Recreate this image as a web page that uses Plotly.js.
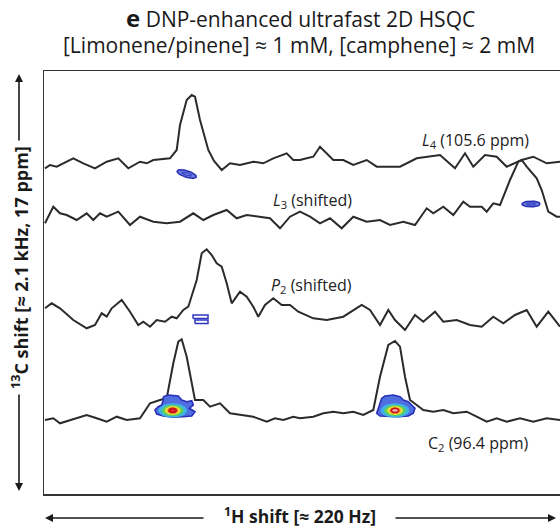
<!DOCTYPE html>
<html>
<head>
<meta charset="utf-8">
<script src="https://cdn.plot.ly/plotly-3.0.1.min.js"></script>
<style>html,body{margin:0;padding:0;background:#fff;}#chart{width:560px;height:528px;}</style>
</head>
<body>
<div id="chart"></div>
<script>
// ---- 1D projections (x: 1H position, arbitrary units; y: intensity relative to each trace baseline)
const xL4 = [1,6,12.7,29.3,39.3,51,62.7,74.3,84.3,96,102.7,109.3,126,132.7,136,142.7,147.7,151,156,164.3,170,177.7,186,196,209.3,219.3,229.3,242.7,249.3,256,262.7,269.3,276,289.3,299.3,309.3,322.7,332.7,346,356,372.7,396,411,421,429.3,441,452.7,462.7,477.7,489.3,502.7,516];
const yL4 = [-5.3,-2,-3.7,4.7,-0.3,-5.3,1.3,4.7,-5.3,1.3,-0.3,3,4.7,13,38,63,68,66.3,43,13,2,-7,-0.3,-2,1.3,-0.3,4.7,9.7,3,3,4.7,6.3,16.3,3,3,-2,3,-3.7,-3.7,-3.7,4.7,8,-5.3,9.7,-3.7,8,6.3,-3.7,3,6.3,-0.3,1.3];
const xL3 = [1,9.3,16,22.7,32.7,42.7,49.3,56,62.7,74.3,86,96,109.3,122.7,136,149.3,159.3,169.3,182.7,192.7,202.7,216,226,236,246,256,266,276,286,297.7,309.3,322.7,336,346,359.3,371,382.7,389.3,399.3,409.3,419.3,426,437.7,442.7,449.3,456,466,474.3,477.7,482.7,492.7,497.7,504.3,512.7,516];
const yL3 = [-7.3,9.3,2.7,1,-4,2.7,-4,2.7,-0.7,4.3,-9,-0.7,-5.7,-7.3,-5.7,2.7,-4,1,6,-2.3,1,-0.7,-2.3,-12.3,-0.7,4.3,-0.7,-7.3,-2.3,-12.3,-0.7,-5.7,-4,-9,-5.7,-9,7.7,2.7,9.3,1,14.3,9.3,9.3,4.3,12.7,11,36,54.3,56,49.3,37.7,26,4.3,-0.7,-0.7];
const xP2 = [1,7.7,16,29.3,42.7,51,57.7,62.7,67.7,77.7,86,94.3,99.3,106,112.7,121,127.7,132.7,139.3,144.3,152.7,157.7,162.7,167.7,172.7,177.7,182.7,187.7,196,202.7,209.3,214.3,221,229.3,237.7,246,254.3,269.3,282.7,299.3,317.7,326,336,344.3,351,361,371,379.3,391,399.3,412.7,426,437.7,449.3,459.3,471,482.7,492.7,504.3,516];
const yP2 = [7.7,12.7,7.7,-4,-12.3,-9,2.7,-0.7,7.7,16,4.3,-9,-5.7,-10.7,-4,-5.7,-0.7,-2.3,6,9.3,36,62.7,66.7,61,52.7,49.3,32.7,12.7,24.3,19.3,9.3,-0.7,11,17.7,11,11,4.3,-2.3,-4,-0.7,11,6,-9,6,-4,-14,1,-5.7,4.3,-5.7,-4,-9,-10.7,-0.7,-7.3,1,6,-10.7,4.3,-10.7];
const xC2 = [1,9.3,16,26,34,42.7,52.7,62.7,72.7,82.7,96,106,116,122.7,129.3,134.3,137.7,142.7,151,159.3,166,176,186,196,209.3,222.7,231,239.3,249.3,256,269.3,279.3,289.3,299.3,309.3,319.3,329.3,336,344.3,351,356,361,366,372.7,379.3,389.3,399.3,409.3,422.7,432.7,442.7,452.7,462.7,476,489.3,502.7,516];
const yC2 = [-2,-0.3,-5.3,-2,0,3,-0.3,-3.7,1.3,-2,-0.3,14.7,18,19.7,54.7,76.3,78.7,61.3,18,18,11.3,14.7,4.7,3,1.3,-3.7,-0.3,-2,1.3,-0.3,1.3,4.7,6.3,4.7,6.3,3,8,41.3,73,77,71.3,41.3,18,13,8,6.3,8,4.7,6.3,1.3,-3.7,-0.3,-3.7,-0.3,-3.7,-0.3,-2];
const traceNames = ['L4','L3','P2','C2'];
const traceOffsets = [331, 278, 178, 76];
const traceLabels = ['<i>L</i><sub>4</sub> (105.6 ppm)','<i>L</i><sub>3</sub> (shifted)','<i>P</i><sub>2</sub> (shifted)','C<sub>2</sub> (96.4 ppm)'];
const labelX = [431, 268, 267, 434];
const labelY = [354, 294, 209, 51];

// ---- 2D cross peaks (contours)
const blob1OutlineX = [119.3,124.3,134.3,137.7,142.7,147.7,149.3,145.3,151,147.7,139.3,129.3,119.3,112.7,111,114.3,117.7,119.3];
const blob1OutlineY = [97.3,99,98,94,92.3,93.3,89,85.7,82.3,78,77.3,76.7,78,80,84,87.3,89,94];
const blob2OutlineX = [337.7,341,349.3,356,359.3,364.3,367.7,371,369.3,364.3,354.3,344.3,336,332.7,334.3,336];
const blob2OutlineY = [95.7,98,99,97.3,94,92.3,89,85.7,80.7,78,77.3,77.3,78,80.7,85.7,90.7];
const blobCenterX = [128.7, 351];
const blobCenterY = [83.5, 83.5];
const levelRx = [14, 10.5, 7.5, 5.5, 3.8];
const levelRy = [6.8, 5.2, 4, 3, 2.2];
const weakPeakX = [142.7, 487];
const weakPeakY = [320, 290];
const weakPeakRx = [10, 9];
const weakPeakRy = [3.2, 2.8];
const weakPeakTilt = [-0.3, 0];
const p2BoxX0 = [149, 151], p2BoxX1 = [164, 164];
const p2BoxY0 = [175.5, 170.5], p2BoxY1 = [179, 174];

// ---- styles
const lineColor = '#2b2b2b';
const levelFill = ['#3fb4e8','#5fcf5a','#efe33a','#f29a2a','#e0262a'];
const font = 'Open Sans, sans-serif';

function ellipse(cx, cy, rx, ry, rot) {
  const xs = [], ys = [];
  for (let i = 0; i <= 48; i++) {
    const t = 2 * Math.PI * i / 48;
    const ex = rx * Math.cos(t), ey = ry * Math.sin(t);
    xs.push(cx + ex * Math.cos(rot) - ey * Math.sin(rot));
    ys.push(cy + ex * Math.sin(rot) + ey * Math.cos(rot));
  }
  return [xs, ys];
}

const traces = [];
const xs = [xL4, xL3, xP2, xC2];
const ys = [yL4, yL3, yP2, yC2];
for (let k = 0; k < 4; k++) {
  traces.push({
    type: 'scatter', mode: 'lines', name: traceNames[k],
    x: xs[k], y: ys[k].map(v => v + traceOffsets[k]),
    line: {color: lineColor, width: 2}, hoverinfo: 'skip'
  });
}
for (let k = 0; k < weakPeakX.length; k++) {
  const [ex, ey] = ellipse(weakPeakX[k], weakPeakY[k], weakPeakRx[k], weakPeakRy[k], weakPeakTilt[k]);
  traces.push({type:'scatter', mode:'lines', x: ex, y: ey, fill:'toself', fillcolor:'#6d7ee0', line:{color:'#2a33b4', width:1.6}, hoverinfo:'skip'});
  const [ix, iy] = ellipse(weakPeakX[k], weakPeakY[k], weakPeakRx[k]*0.5, weakPeakRy[k]*0.4, weakPeakTilt[k]);
  traces.push({type:'scatter', mode:'lines', x: ix, y: iy, line:{color:'#3a46c4', width:1.2}, hoverinfo:'skip'});
}
for (let k = 0; k < p2BoxX0.length; k++) {
  traces.push({type:'scatter', mode:'lines',
    x:[p2BoxX0[k], p2BoxX1[k], p2BoxX1[k], p2BoxX0[k], p2BoxX0[k]],
    y:[p2BoxY0[k], p2BoxY0[k], p2BoxY1[k], p2BoxY1[k], p2BoxY0[k]],
    line:{color:'#2f36c0', width:1.5}, hoverinfo:'skip'});
}
const outX = [blob1OutlineX, blob2OutlineX], outY = [blob1OutlineY, blob2OutlineY];
for (let b = 0; b < 2; b++) {
  traces.push({type:'scatter', mode:'lines', x: outX[b].concat([outX[b][0]]), y: outY[b].concat([outY[b][0]]),
    fill:'toself', fillcolor:'#4f6fe0', line:{color:'#2a30b8', width:1.6}, hoverinfo:'skip'});
  for (let l = 0; l < levelRx.length; l++) {
    const [ex, ey] = ellipse(blobCenterX[b], blobCenterY[b], levelRx[l], levelRy[l], 0);
    const isCore = (l === levelRx.length - 1);
    traces.push({type:'scatter', mode:'lines', x: ex, y: ey, fill:'toself',
      fillcolor: (isCore && b === 1) ? '#f7b0b0' : levelFill[l],
      line:{color: isCore ? '#c8101a' : levelFill[l], width: isCore ? 1.6 : 0.8}, hoverinfo:'skip'});
  }
}

const annotations = [];
for (let k = 0; k < 4; k++) {
  annotations.push({x: labelX[k], y: labelY[k], xref:'x', yref:'y', text: traceLabels[k], showarrow:false,
    font:{family:font, size:16, color:'#222'}, xanchor:'center', yanchor:'middle'});
}
// title lines
annotations.push({xref:'paper', yref:'paper', x:(300-44)/516, y:(494-17)/423, xanchor:'center', yanchor:'middle', showarrow:false,
  text:'<b><span style="font-size:24px">e</span></b> DNP-enhanced ultrafast 2D HSQC', font:{family:font, size:21, color:'#1a1a1a'}});
annotations.push({xref:'paper', yref:'paper', x:(299-44)/516, y:(494-45)/423, xanchor:'center', yanchor:'middle', showarrow:false,
  text:'[Limonene/pinene] ≈ 1 mM, [camphene] ≈ 2 mM', font:{family:font, size:21, color:'#1a1a1a'}});
// axis titles with arrows
annotations.push({xref:'paper', yref:'paper', x:(300-44)/516, y:(494-515)/423, text:'<sup>1</sup>H shift [≈ 220 Hz]', showarrow:false,
  font:{family:font, size:17.5, color:'#1a1a1a', weight:'bold'}, xanchor:'center', yanchor:'middle'});
annotations.push({xref:'paper', yref:'paper', x:(20-44)/516, y:(494-268)/423, text:'<sup>13</sup>C shift [≈ 2.1 kHz, 17 ppm]', showarrow:false,
  textangle:-90, font:{family:font, size:18, color:'#1a1a1a', weight:'bold'}, xanchor:'center', yanchor:'middle'});
const arrowStyle = {text:'', showarrow:true, arrowhead:2, arrowsize:1, arrowwidth:1.6, arrowcolor:'#1a1a1a', axref:'pixel', ayref:'pixel', xref:'paper', yref:'paper'};
annotations.push(Object.assign({}, arrowStyle, {x:(45-44)/516, y:(494-518)/423, ax:160, ay:0}));
annotations.push(Object.assign({}, arrowStyle, {x:(556-44)/516, y:(494-518)/423, ax:-162, ay:0}));
annotations.push(Object.assign({}, arrowStyle, {x:(19-44)/516, y:(494-74)/423, ax:0, ay:68}));
annotations.push(Object.assign({}, arrowStyle, {x:(19-44)/516, y:(494-491)/423, ax:0, ay:-98}));

const layout = {
  width:560, height:528,
  margin:{l:44, r:0, t:71, b:34},
  paper_bgcolor:'#fff', plot_bgcolor:'#fff',
  showlegend:false,
  xaxis:{range:[0,516], showgrid:false, zeroline:false, showticklabels:false, ticks:'',
    showline:true, mirror:true, linecolor:'#333', linewidth:1.5, fixedrange:true},
  yaxis:{range:[0,423], showgrid:false, zeroline:false, showticklabels:false, ticks:'',
    showline:true, mirror:false, linecolor:'#333', linewidth:1.5, fixedrange:true},
  annotations: annotations
};
Plotly.newPlot('chart', traces, layout, {displayModeBar:false, staticPlot:true});
</script>
</body>
</html>
